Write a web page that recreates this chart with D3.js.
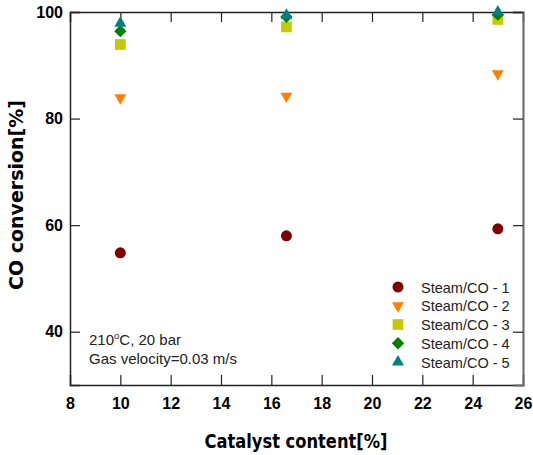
<!DOCTYPE html>
<html>
<head>
<meta charset="utf-8">
<script src="https://cdn.jsdelivr.net/npm/d3@7"></script>
<style>
  body { margin: 0; background: #fff; }
  svg { display: block; }
  text { font-family: "Liberation Sans", Arial, sans-serif; }
  .title { font-family: "DejaVu Sans Condensed", "DejaVu Sans", sans-serif; font-stretch: condensed; font-weight: bold; }
</style>
</head>
<body>
<svg width="533" height="455"></svg>
<script>
const catalyst = [10, 16.6, 25];
const seriesNames = ['Steam/CO - 1', 'Steam/CO - 2', 'Steam/CO - 3', 'Steam/CO - 4', 'Steam/CO - 5'];
const steam1 = [54.8, 58.0, 59.3];
const steam2 = [83.9, 84.2, 88.4];
const steam3 = [93.9, 97.2, 98.6];
const steam4 = [96.4, 99.1, 99.5];
const steam5 = [97.9, 99.4, 100.0];
const xTicks = [8, 10, 12, 14, 16, 18, 20, 22, 24, 26];
const yTicks = [40, 60, 80, 100];

const plotLeft = 70, plotRight = 523, plotTop = 12, plotBottom = 385;

const svg = d3.select('svg');

const x = d3.scaleLinear().domain([8, 26]).range([plotLeft, plotRight]);
const y = d3.scaleLinear().domain([30, 100]).range([plotBottom, plotTop]);

const series = [
    { name: seriesNames[0], values: steam1, color: '#800000', shape: d3.symbolCircle, size: 95, rot: 0 },
    { name: seriesNames[1], values: steam2, color: '#ff8000', shape: d3.symbolTriangle, size: 62, rot: 180 },
    { name: seriesNames[2], values: steam3, color: '#c8c800', shape: d3.symbolSquare, size: 115, rot: 0 },
    { name: seriesNames[3], values: steam4, color: '#008000', shape: d3.symbolSquare, size: 76, rot: 45 },
    { name: seriesNames[4], values: steam5, color: '#008080', shape: d3.symbolTriangle, size: 62, rot: 0 }
];

// axes with inward ticks
svg.append('g')
    .attr('transform', `translate(0, ${plotBottom})`)
    .call(d3.axisBottom(x).tickValues(xTicks).tickSize(-10).tickPadding(13).tickFormat(d3.format('d')))
    .call(g => g.selectAll('.tick line').filter(d => d === 8 || d === 26).remove());

svg.append('g')
    .attr('transform', `translate(0, ${plotTop})`)
    .call(d3.axisTop(x).tickValues(xTicks.slice(1, -1)).tickSize(-10).tickFormat(''))
    .call(g => g.selectAll('.tick text').remove());

svg.append('g')
    .attr('transform', `translate(${plotLeft}, 0)`)
    .call(d3.axisLeft(y).tickValues(yTicks).tickSize(-10).tickPadding(7).tickFormat(d3.format('d')));

svg.append('g')
    .attr('class', 'right')
    .attr('transform', `translate(${plotRight}, 0)`)
    .call(d3.axisRight(y).tickValues(yTicks).tickSize(-10).tickFormat(''));

svg.selectAll('.domain').attr('stroke', '#222').attr('stroke-width', 1.5);
svg.selectAll('.tick line').attr('stroke', '#222').attr('stroke-width', 1.2);
svg.select('.right .domain').attr('stroke', '#666').attr('stroke-width', 2);
svg.selectAll('.tick text')
    .attr('font-family', '"Liberation Sans", Arial, sans-serif')
    .attr('font-size', 16)
    .attr('font-weight', 'bold')
    .attr('fill', '#000');

// axis titles
svg.append('text')
    .attr('class', 'title')
    .attr('x', 296)
    .attr('y', 448)
    .attr('text-anchor', 'middle')
    .attr('font-size', 19)
    .attr('textLength', 183)
    .attr('lengthAdjust', 'spacingAndGlyphs')
    .text('Catalyst content[%]');

svg.append('text')
    .attr('class', 'title')
    .attr('transform', 'translate(23, 195) rotate(-90)')
    .attr('text-anchor', 'middle')
    .attr('font-size', 19)
    .attr('textLength', 190)
    .attr('lengthAdjust', 'spacingAndGlyphs')
    .text('CO conversion[%]');

// data markers
series.forEach(s => {
    svg.append('g').selectAll('path')
        .data(s.values)
        .join('path')
        .attr('d', d3.symbol().type(s.shape).size(s.size))
        .attr('transform', (d, i) => `translate(${x(catalyst[i])}, ${y(d)}) rotate(${s.rot})`)
        .attr('fill', s.color);
});

// legend
const legend = svg.append('g').attr('transform', 'translate(398, 287)');
series.forEach((s, i) => {
    const row = legend.append('g').attr('transform', `translate(0, ${i * 18.75})`);
    row.append('path')
        .attr('d', d3.symbol().type(s.shape).size(s.size))
        .attr('transform', `rotate(${s.rot})`)
        .attr('fill', s.color);
    row.append('text')
        .attr('x', 23)
        .attr('y', 5.5)
        .attr('font-size', 14.5)
        .attr('fill', '#222')
        .text(s.name);
});

// annotation
const note = svg.append('text')
    .attr('x', 89)
    .attr('y', 345)
    .attr('font-size', 15)
    .attr('fill', '#222');
note.append('tspan').text('210');
note.append('tspan').attr('dy', -6).attr('font-size', 9.5).text('o');
note.append('tspan').attr('dy', 6).text('C, 20 bar');

svg.append('text')
    .attr('x', 89)
    .attr('y', 364)
    .attr('font-size', 15)
    .attr('fill', '#222')
    .text('Gas velocity=0.03 m/s');
</script>
</body>
</html>
